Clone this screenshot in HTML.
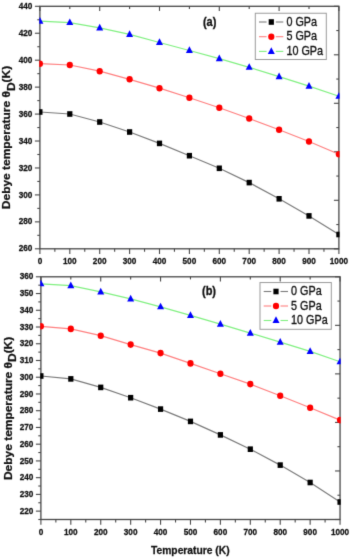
<!DOCTYPE html>
<html><head><meta charset="utf-8"><style>
html,body{margin:0;padding:0;background:#fff;overflow:hidden;width:350px;height:558px;}
svg{display:block;will-change:transform;}
text{font-family:"Liberation Sans", sans-serif;fill:#111;}
.tl{font-size:8.2px;font-weight:bold;stroke:#111;stroke-width:0.25px;}
.pl{font-size:11px;font-weight:bold;stroke:#111;stroke-width:0.3px;}
.yt{font-size:10px;font-weight:bold;stroke:#111;stroke-width:0.25px;}
.xt{font-size:10.3px;font-weight:bold;stroke:#111;stroke-width:0.25px;}
.lg{font-size:10.8px;stroke:#111;stroke-width:0.3px;}
</style></head><body>
<svg width="350" height="558" viewBox="0 0 350 558">
<defs><filter id="bl" x="0" y="0" width="350" height="558" filterUnits="userSpaceOnUse" color-interpolation-filters="sRGB"><feConvolveMatrix order="3" kernelMatrix="0.0114 0.0841 0.0114 0.0841 0.6178 0.0841 0.0114 0.0841 0.0114" edgeMode="duplicate"/></filter></defs>
<g filter="url(#bl)">
<rect width="350" height="558" fill="#fff"/>
<clipPath id="ca"><rect x="39.25" y="5.6499999999999995" width="300.3" height="243.8"/></clipPath>
<rect x="39.9" y="6.3" width="299.0" height="242.5" fill="none" stroke="#474747" stroke-width="1.3"/>
<line x1="34.90" y1="248.80" x2="39.9" y2="248.80" stroke="#474747" stroke-width="1.1"/>
<text transform="translate(32.40 251.40) scale(1 1.14)" text-anchor="end" class="tl">260</text>
<line x1="37.30" y1="235.33" x2="39.9" y2="235.33" stroke="#474747" stroke-width="1.1"/>
<line x1="34.90" y1="221.86" x2="39.9" y2="221.86" stroke="#474747" stroke-width="1.1"/>
<text transform="translate(32.40 224.46) scale(1 1.14)" text-anchor="end" class="tl">280</text>
<line x1="37.30" y1="208.38" x2="39.9" y2="208.38" stroke="#474747" stroke-width="1.1"/>
<line x1="34.90" y1="194.91" x2="39.9" y2="194.91" stroke="#474747" stroke-width="1.1"/>
<text transform="translate(32.40 197.51) scale(1 1.14)" text-anchor="end" class="tl">300</text>
<line x1="37.30" y1="181.44" x2="39.9" y2="181.44" stroke="#474747" stroke-width="1.1"/>
<line x1="34.90" y1="167.97" x2="39.9" y2="167.97" stroke="#474747" stroke-width="1.1"/>
<text transform="translate(32.40 170.57) scale(1 1.14)" text-anchor="end" class="tl">320</text>
<line x1="37.30" y1="154.49" x2="39.9" y2="154.49" stroke="#474747" stroke-width="1.1"/>
<line x1="34.90" y1="141.02" x2="39.9" y2="141.02" stroke="#474747" stroke-width="1.1"/>
<text transform="translate(32.40 143.62) scale(1 1.14)" text-anchor="end" class="tl">340</text>
<line x1="37.30" y1="127.55" x2="39.9" y2="127.55" stroke="#474747" stroke-width="1.1"/>
<line x1="34.90" y1="114.08" x2="39.9" y2="114.08" stroke="#474747" stroke-width="1.1"/>
<text transform="translate(32.40 116.68) scale(1 1.14)" text-anchor="end" class="tl">360</text>
<line x1="37.30" y1="100.61" x2="39.9" y2="100.61" stroke="#474747" stroke-width="1.1"/>
<line x1="34.90" y1="87.13" x2="39.9" y2="87.13" stroke="#474747" stroke-width="1.1"/>
<text transform="translate(32.40 89.73) scale(1 1.14)" text-anchor="end" class="tl">380</text>
<line x1="37.30" y1="73.66" x2="39.9" y2="73.66" stroke="#474747" stroke-width="1.1"/>
<line x1="34.90" y1="60.19" x2="39.9" y2="60.19" stroke="#474747" stroke-width="1.1"/>
<text transform="translate(32.40 62.79) scale(1 1.14)" text-anchor="end" class="tl">400</text>
<line x1="37.30" y1="46.72" x2="39.9" y2="46.72" stroke="#474747" stroke-width="1.1"/>
<line x1="34.90" y1="33.24" x2="39.9" y2="33.24" stroke="#474747" stroke-width="1.1"/>
<text transform="translate(32.40 35.84) scale(1 1.14)" text-anchor="end" class="tl">420</text>
<line x1="37.30" y1="19.77" x2="39.9" y2="19.77" stroke="#474747" stroke-width="1.1"/>
<line x1="34.90" y1="6.30" x2="39.9" y2="6.30" stroke="#474747" stroke-width="1.1"/>
<text transform="translate(32.40 8.90) scale(1 1.14)" text-anchor="end" class="tl">440</text>
<line x1="333.90" y1="6.30" x2="338.9" y2="6.30" stroke="#474747" stroke-width="1.1"/>
<line x1="336.30" y1="30.55" x2="338.9" y2="30.55" stroke="#474747" stroke-width="1.1"/>
<line x1="333.90" y1="54.80" x2="338.9" y2="54.80" stroke="#474747" stroke-width="1.1"/>
<line x1="336.30" y1="79.05" x2="338.9" y2="79.05" stroke="#474747" stroke-width="1.1"/>
<line x1="333.90" y1="103.30" x2="338.9" y2="103.30" stroke="#474747" stroke-width="1.1"/>
<line x1="336.30" y1="127.55" x2="338.9" y2="127.55" stroke="#474747" stroke-width="1.1"/>
<line x1="333.90" y1="151.80" x2="338.9" y2="151.80" stroke="#474747" stroke-width="1.1"/>
<line x1="336.30" y1="176.05" x2="338.9" y2="176.05" stroke="#474747" stroke-width="1.1"/>
<line x1="333.90" y1="200.30" x2="338.9" y2="200.30" stroke="#474747" stroke-width="1.1"/>
<line x1="336.30" y1="224.55" x2="338.9" y2="224.55" stroke="#474747" stroke-width="1.1"/>
<line x1="333.90" y1="248.80" x2="338.9" y2="248.80" stroke="#474747" stroke-width="1.1"/>
<line x1="39.90" y1="248.8" x2="39.90" y2="254.00" stroke="#474747" stroke-width="1.1"/>
<text transform="translate(39.90 264.20) scale(1 1.14)" text-anchor="middle" class="tl">0</text>
<line x1="54.85" y1="248.8" x2="54.85" y2="251.80" stroke="#474747" stroke-width="1.1"/>
<line x1="69.80" y1="248.8" x2="69.80" y2="254.00" stroke="#474747" stroke-width="1.1"/>
<text transform="translate(69.80 264.20) scale(1 1.14)" text-anchor="middle" class="tl">100</text>
<line x1="84.75" y1="248.8" x2="84.75" y2="251.80" stroke="#474747" stroke-width="1.1"/>
<line x1="99.70" y1="248.8" x2="99.70" y2="254.00" stroke="#474747" stroke-width="1.1"/>
<text transform="translate(99.70 264.20) scale(1 1.14)" text-anchor="middle" class="tl">200</text>
<line x1="114.65" y1="248.8" x2="114.65" y2="251.80" stroke="#474747" stroke-width="1.1"/>
<line x1="129.60" y1="248.8" x2="129.60" y2="254.00" stroke="#474747" stroke-width="1.1"/>
<text transform="translate(129.60 264.20) scale(1 1.14)" text-anchor="middle" class="tl">300</text>
<line x1="144.55" y1="248.8" x2="144.55" y2="251.80" stroke="#474747" stroke-width="1.1"/>
<line x1="159.50" y1="248.8" x2="159.50" y2="254.00" stroke="#474747" stroke-width="1.1"/>
<text transform="translate(159.50 264.20) scale(1 1.14)" text-anchor="middle" class="tl">400</text>
<line x1="174.45" y1="248.8" x2="174.45" y2="251.80" stroke="#474747" stroke-width="1.1"/>
<line x1="189.40" y1="248.8" x2="189.40" y2="254.00" stroke="#474747" stroke-width="1.1"/>
<text transform="translate(189.40 264.20) scale(1 1.14)" text-anchor="middle" class="tl">500</text>
<line x1="204.35" y1="248.8" x2="204.35" y2="251.80" stroke="#474747" stroke-width="1.1"/>
<line x1="219.30" y1="248.8" x2="219.30" y2="254.00" stroke="#474747" stroke-width="1.1"/>
<text transform="translate(219.30 264.20) scale(1 1.14)" text-anchor="middle" class="tl">600</text>
<line x1="234.25" y1="248.8" x2="234.25" y2="251.80" stroke="#474747" stroke-width="1.1"/>
<line x1="249.20" y1="248.8" x2="249.20" y2="254.00" stroke="#474747" stroke-width="1.1"/>
<text transform="translate(249.20 264.20) scale(1 1.14)" text-anchor="middle" class="tl">700</text>
<line x1="264.15" y1="248.8" x2="264.15" y2="251.80" stroke="#474747" stroke-width="1.1"/>
<line x1="279.10" y1="248.8" x2="279.10" y2="254.00" stroke="#474747" stroke-width="1.1"/>
<text transform="translate(279.10 264.20) scale(1 1.14)" text-anchor="middle" class="tl">800</text>
<line x1="294.05" y1="248.8" x2="294.05" y2="251.80" stroke="#474747" stroke-width="1.1"/>
<line x1="309.00" y1="248.8" x2="309.00" y2="254.00" stroke="#474747" stroke-width="1.1"/>
<text transform="translate(309.00 264.20) scale(1 1.14)" text-anchor="middle" class="tl">900</text>
<line x1="323.95" y1="248.8" x2="323.95" y2="251.80" stroke="#474747" stroke-width="1.1"/>
<line x1="338.90" y1="248.8" x2="338.90" y2="254.00" stroke="#474747" stroke-width="1.1"/>
<text transform="translate(338.90 264.20) scale(1 1.14)" text-anchor="middle" class="tl">1000</text>
<line x1="39.90" y1="6.3" x2="39.90" y2="10.90" stroke="#474747" stroke-width="1.1"/>
<line x1="69.80" y1="6.3" x2="69.80" y2="8.90" stroke="#474747" stroke-width="1.1"/>
<line x1="99.70" y1="6.3" x2="99.70" y2="10.90" stroke="#474747" stroke-width="1.1"/>
<line x1="129.60" y1="6.3" x2="129.60" y2="8.90" stroke="#474747" stroke-width="1.1"/>
<line x1="159.50" y1="6.3" x2="159.50" y2="10.90" stroke="#474747" stroke-width="1.1"/>
<line x1="189.40" y1="6.3" x2="189.40" y2="8.90" stroke="#474747" stroke-width="1.1"/>
<line x1="219.30" y1="6.3" x2="219.30" y2="10.90" stroke="#474747" stroke-width="1.1"/>
<line x1="249.20" y1="6.3" x2="249.20" y2="8.90" stroke="#474747" stroke-width="1.1"/>
<line x1="279.10" y1="6.3" x2="279.10" y2="10.90" stroke="#474747" stroke-width="1.1"/>
<line x1="309.00" y1="6.3" x2="309.00" y2="8.90" stroke="#474747" stroke-width="1.1"/>
<line x1="338.90" y1="6.3" x2="338.90" y2="10.90" stroke="#474747" stroke-width="1.1"/>
<g clip-path="url(#ca)">
<polyline points="39.90,112.00 69.80,114.00 99.70,122.00 129.60,132.00 159.50,143.40 189.40,155.70 219.30,168.30 249.20,182.60 279.10,198.80 309.00,215.90 338.90,234.50" fill="none" stroke="#7a7a7a" stroke-width="1.2"/>
<polyline points="39.90,63.70 69.80,65.00 99.70,71.20 129.60,79.30 159.50,88.20 189.40,97.80 219.30,107.70 249.20,118.50 279.10,129.80 309.00,141.50 338.90,154.20" fill="none" stroke="#ff7f7f" stroke-width="1.2"/>
<polyline points="39.90,21.10 69.80,22.55 99.70,27.90 129.60,34.40 159.50,42.50 189.40,50.50 219.30,58.70 249.20,67.30 279.10,76.60 309.00,86.10 338.90,96.30" fill="none" stroke="#80f080" stroke-width="1.2"/>
<rect x="37.30" y="109.20" width="5.2" height="5.6" fill="#000"/>
<rect x="67.20" y="111.20" width="5.2" height="5.6" fill="#000"/>
<rect x="97.10" y="119.20" width="5.2" height="5.6" fill="#000"/>
<rect x="127.00" y="129.20" width="5.2" height="5.6" fill="#000"/>
<rect x="156.90" y="140.60" width="5.2" height="5.6" fill="#000"/>
<rect x="186.80" y="152.90" width="5.2" height="5.6" fill="#000"/>
<rect x="216.70" y="165.50" width="5.2" height="5.6" fill="#000"/>
<rect x="246.60" y="179.80" width="5.2" height="5.6" fill="#000"/>
<rect x="276.50" y="196.00" width="5.2" height="5.6" fill="#000"/>
<rect x="306.40" y="213.10" width="5.2" height="5.6" fill="#000"/>
<rect x="336.30" y="231.70" width="5.2" height="5.6" fill="#000"/>
<ellipse cx="39.90" cy="63.70" rx="3.1" ry="3.3" fill="#ff0000"/>
<ellipse cx="69.80" cy="65.00" rx="3.1" ry="3.3" fill="#ff0000"/>
<ellipse cx="99.70" cy="71.20" rx="3.1" ry="3.3" fill="#ff0000"/>
<ellipse cx="129.60" cy="79.30" rx="3.1" ry="3.3" fill="#ff0000"/>
<ellipse cx="159.50" cy="88.20" rx="3.1" ry="3.3" fill="#ff0000"/>
<ellipse cx="189.40" cy="97.80" rx="3.1" ry="3.3" fill="#ff0000"/>
<ellipse cx="219.30" cy="107.70" rx="3.1" ry="3.3" fill="#ff0000"/>
<ellipse cx="249.20" cy="118.50" rx="3.1" ry="3.3" fill="#ff0000"/>
<ellipse cx="279.10" cy="129.80" rx="3.1" ry="3.3" fill="#ff0000"/>
<ellipse cx="309.00" cy="141.50" rx="3.1" ry="3.3" fill="#ff0000"/>
<ellipse cx="338.90" cy="154.20" rx="3.1" ry="3.3" fill="#ff0000"/>
<path d="M39.90 16.95L43.40 23.65L36.40 23.65Z" fill="#0000ff"/>
<path d="M69.80 18.40L73.30 25.10L66.30 25.10Z" fill="#0000ff"/>
<path d="M99.70 23.75L103.20 30.45L96.20 30.45Z" fill="#0000ff"/>
<path d="M129.60 30.25L133.10 36.95L126.10 36.95Z" fill="#0000ff"/>
<path d="M159.50 38.35L163.00 45.05L156.00 45.05Z" fill="#0000ff"/>
<path d="M189.40 46.35L192.90 53.05L185.90 53.05Z" fill="#0000ff"/>
<path d="M219.30 54.55L222.80 61.25L215.80 61.25Z" fill="#0000ff"/>
<path d="M249.20 63.15L252.70 69.85L245.70 69.85Z" fill="#0000ff"/>
<path d="M279.10 72.45L282.60 79.15L275.60 79.15Z" fill="#0000ff"/>
<path d="M309.00 81.95L312.50 88.65L305.50 88.65Z" fill="#0000ff"/>
<path d="M338.90 92.15L342.40 98.85L335.40 98.85Z" fill="#0000ff"/>
</g>
<text transform="translate(209.6 26.00) scale(1 1.1)" text-anchor="middle" class="pl">(a)</text>
<text transform="translate(10.0 137.50) rotate(-90) scale(1.196 1)" text-anchor="middle" class="yt">Debye temperature &#952;<tspan dy="4.5">D</tspan><tspan dy="-4.5">(K)</tspan></text>
<rect x="255.3" y="13.25" width="71.0" height="46.25" fill="#fff" stroke="#9a9a9a" stroke-width="1"/>
<line x1="259.0" y1="22.00" x2="266.6" y2="22.00" stroke="#7a7a7a" stroke-width="1.1"/>
<line x1="275.8" y1="22.00" x2="283.3" y2="22.00" stroke="#7a7a7a" stroke-width="1.1"/>
<rect x="268.70" y="19.20" width="5.2" height="5.6" fill="#000"/>
<text transform="translate(286.40 25.70) scale(1 1.13)" class="lg">0 GPa</text>
<line x1="259.0" y1="36.70" x2="266.6" y2="36.70" stroke="#ff7f7f" stroke-width="1.1"/>
<line x1="275.8" y1="36.70" x2="283.3" y2="36.70" stroke="#ff7f7f" stroke-width="1.1"/>
<ellipse cx="271.30" cy="36.70" rx="3.1" ry="3.3" fill="#ff0000"/>
<text transform="translate(286.40 40.40) scale(1 1.13)" class="lg">5 GPa</text>
<line x1="259.0" y1="51.40" x2="266.6" y2="51.40" stroke="#80f080" stroke-width="1.1"/>
<line x1="275.8" y1="51.40" x2="283.3" y2="51.40" stroke="#80f080" stroke-width="1.1"/>
<path d="M271.30 47.25L274.80 53.95L267.80 53.95Z" fill="#0000ff"/>
<text transform="translate(286.40 55.10) scale(1 1.13)" class="lg">10 GPa</text>
<clipPath id="cb"><rect x="40.25" y="276.15000000000003" width="300.45000000000005" height="244.0"/></clipPath>
<rect x="40.9" y="276.8" width="299.15000000000003" height="242.7" fill="none" stroke="#474747" stroke-width="1.3"/>
<line x1="38.30" y1="519.50" x2="40.9" y2="519.50" stroke="#474747" stroke-width="1.1"/>
<line x1="35.90" y1="511.13" x2="40.9" y2="511.13" stroke="#474747" stroke-width="1.1"/>
<text transform="translate(33.40 513.73) scale(1 1.14)" text-anchor="end" class="tl">220</text>
<line x1="38.30" y1="502.76" x2="40.9" y2="502.76" stroke="#474747" stroke-width="1.1"/>
<line x1="35.90" y1="494.39" x2="40.9" y2="494.39" stroke="#474747" stroke-width="1.1"/>
<text transform="translate(33.40 496.99) scale(1 1.14)" text-anchor="end" class="tl">230</text>
<line x1="38.30" y1="486.02" x2="40.9" y2="486.02" stroke="#474747" stroke-width="1.1"/>
<line x1="35.90" y1="477.66" x2="40.9" y2="477.66" stroke="#474747" stroke-width="1.1"/>
<text transform="translate(33.40 480.26) scale(1 1.14)" text-anchor="end" class="tl">240</text>
<line x1="38.30" y1="469.29" x2="40.9" y2="469.29" stroke="#474747" stroke-width="1.1"/>
<line x1="35.90" y1="460.92" x2="40.9" y2="460.92" stroke="#474747" stroke-width="1.1"/>
<text transform="translate(33.40 463.52) scale(1 1.14)" text-anchor="end" class="tl">250</text>
<line x1="38.30" y1="452.55" x2="40.9" y2="452.55" stroke="#474747" stroke-width="1.1"/>
<line x1="35.90" y1="444.18" x2="40.9" y2="444.18" stroke="#474747" stroke-width="1.1"/>
<text transform="translate(33.40 446.78) scale(1 1.14)" text-anchor="end" class="tl">260</text>
<line x1="38.30" y1="435.81" x2="40.9" y2="435.81" stroke="#474747" stroke-width="1.1"/>
<line x1="35.90" y1="427.44" x2="40.9" y2="427.44" stroke="#474747" stroke-width="1.1"/>
<text transform="translate(33.40 430.04) scale(1 1.14)" text-anchor="end" class="tl">270</text>
<line x1="38.30" y1="419.07" x2="40.9" y2="419.07" stroke="#474747" stroke-width="1.1"/>
<line x1="35.90" y1="410.70" x2="40.9" y2="410.70" stroke="#474747" stroke-width="1.1"/>
<text transform="translate(33.40 413.30) scale(1 1.14)" text-anchor="end" class="tl">280</text>
<line x1="38.30" y1="402.33" x2="40.9" y2="402.33" stroke="#474747" stroke-width="1.1"/>
<line x1="35.90" y1="393.97" x2="40.9" y2="393.97" stroke="#474747" stroke-width="1.1"/>
<text transform="translate(33.40 396.57) scale(1 1.14)" text-anchor="end" class="tl">290</text>
<line x1="38.30" y1="385.60" x2="40.9" y2="385.60" stroke="#474747" stroke-width="1.1"/>
<line x1="35.90" y1="377.23" x2="40.9" y2="377.23" stroke="#474747" stroke-width="1.1"/>
<text transform="translate(33.40 379.83) scale(1 1.14)" text-anchor="end" class="tl">300</text>
<line x1="38.30" y1="368.86" x2="40.9" y2="368.86" stroke="#474747" stroke-width="1.1"/>
<line x1="35.90" y1="360.49" x2="40.9" y2="360.49" stroke="#474747" stroke-width="1.1"/>
<text transform="translate(33.40 363.09) scale(1 1.14)" text-anchor="end" class="tl">310</text>
<line x1="38.30" y1="352.12" x2="40.9" y2="352.12" stroke="#474747" stroke-width="1.1"/>
<line x1="35.90" y1="343.75" x2="40.9" y2="343.75" stroke="#474747" stroke-width="1.1"/>
<text transform="translate(33.40 346.35) scale(1 1.14)" text-anchor="end" class="tl">320</text>
<line x1="38.30" y1="335.38" x2="40.9" y2="335.38" stroke="#474747" stroke-width="1.1"/>
<line x1="35.90" y1="327.01" x2="40.9" y2="327.01" stroke="#474747" stroke-width="1.1"/>
<text transform="translate(33.40 329.61) scale(1 1.14)" text-anchor="end" class="tl">330</text>
<line x1="38.30" y1="318.64" x2="40.9" y2="318.64" stroke="#474747" stroke-width="1.1"/>
<line x1="35.90" y1="310.28" x2="40.9" y2="310.28" stroke="#474747" stroke-width="1.1"/>
<text transform="translate(33.40 312.88) scale(1 1.14)" text-anchor="end" class="tl">340</text>
<line x1="38.30" y1="301.91" x2="40.9" y2="301.91" stroke="#474747" stroke-width="1.1"/>
<line x1="35.90" y1="293.54" x2="40.9" y2="293.54" stroke="#474747" stroke-width="1.1"/>
<text transform="translate(33.40 296.14) scale(1 1.14)" text-anchor="end" class="tl">350</text>
<line x1="38.30" y1="285.17" x2="40.9" y2="285.17" stroke="#474747" stroke-width="1.1"/>
<line x1="35.90" y1="276.80" x2="40.9" y2="276.80" stroke="#474747" stroke-width="1.1"/>
<text transform="translate(33.40 279.40) scale(1 1.14)" text-anchor="end" class="tl">360</text>
<line x1="335.05" y1="276.80" x2="340.05" y2="276.80" stroke="#474747" stroke-width="1.1"/>
<line x1="337.45" y1="301.07" x2="340.05" y2="301.07" stroke="#474747" stroke-width="1.1"/>
<line x1="335.05" y1="325.34" x2="340.05" y2="325.34" stroke="#474747" stroke-width="1.1"/>
<line x1="337.45" y1="349.61" x2="340.05" y2="349.61" stroke="#474747" stroke-width="1.1"/>
<line x1="335.05" y1="373.88" x2="340.05" y2="373.88" stroke="#474747" stroke-width="1.1"/>
<line x1="337.45" y1="398.15" x2="340.05" y2="398.15" stroke="#474747" stroke-width="1.1"/>
<line x1="335.05" y1="422.42" x2="340.05" y2="422.42" stroke="#474747" stroke-width="1.1"/>
<line x1="337.45" y1="446.69" x2="340.05" y2="446.69" stroke="#474747" stroke-width="1.1"/>
<line x1="335.05" y1="470.96" x2="340.05" y2="470.96" stroke="#474747" stroke-width="1.1"/>
<line x1="337.45" y1="495.23" x2="340.05" y2="495.23" stroke="#474747" stroke-width="1.1"/>
<line x1="335.05" y1="519.50" x2="340.05" y2="519.50" stroke="#474747" stroke-width="1.1"/>
<line x1="40.90" y1="519.5" x2="40.90" y2="524.70" stroke="#474747" stroke-width="1.1"/>
<text transform="translate(40.90 534.90) scale(1 1.14)" text-anchor="middle" class="tl">0</text>
<line x1="55.86" y1="519.5" x2="55.86" y2="522.50" stroke="#474747" stroke-width="1.1"/>
<line x1="70.81" y1="519.5" x2="70.81" y2="524.70" stroke="#474747" stroke-width="1.1"/>
<text transform="translate(70.81 534.90) scale(1 1.14)" text-anchor="middle" class="tl">100</text>
<line x1="85.77" y1="519.5" x2="85.77" y2="522.50" stroke="#474747" stroke-width="1.1"/>
<line x1="100.73" y1="519.5" x2="100.73" y2="524.70" stroke="#474747" stroke-width="1.1"/>
<text transform="translate(100.73 534.90) scale(1 1.14)" text-anchor="middle" class="tl">200</text>
<line x1="115.69" y1="519.5" x2="115.69" y2="522.50" stroke="#474747" stroke-width="1.1"/>
<line x1="130.65" y1="519.5" x2="130.65" y2="524.70" stroke="#474747" stroke-width="1.1"/>
<text transform="translate(130.65 534.90) scale(1 1.14)" text-anchor="middle" class="tl">300</text>
<line x1="145.60" y1="519.5" x2="145.60" y2="522.50" stroke="#474747" stroke-width="1.1"/>
<line x1="160.56" y1="519.5" x2="160.56" y2="524.70" stroke="#474747" stroke-width="1.1"/>
<text transform="translate(160.56 534.90) scale(1 1.14)" text-anchor="middle" class="tl">400</text>
<line x1="175.52" y1="519.5" x2="175.52" y2="522.50" stroke="#474747" stroke-width="1.1"/>
<line x1="190.48" y1="519.5" x2="190.48" y2="524.70" stroke="#474747" stroke-width="1.1"/>
<text transform="translate(190.48 534.90) scale(1 1.14)" text-anchor="middle" class="tl">500</text>
<line x1="205.43" y1="519.5" x2="205.43" y2="522.50" stroke="#474747" stroke-width="1.1"/>
<line x1="220.39" y1="519.5" x2="220.39" y2="524.70" stroke="#474747" stroke-width="1.1"/>
<text transform="translate(220.39 534.90) scale(1 1.14)" text-anchor="middle" class="tl">600</text>
<line x1="235.35" y1="519.5" x2="235.35" y2="522.50" stroke="#474747" stroke-width="1.1"/>
<line x1="250.31" y1="519.5" x2="250.31" y2="524.70" stroke="#474747" stroke-width="1.1"/>
<text transform="translate(250.31 534.90) scale(1 1.14)" text-anchor="middle" class="tl">700</text>
<line x1="265.26" y1="519.5" x2="265.26" y2="522.50" stroke="#474747" stroke-width="1.1"/>
<line x1="280.22" y1="519.5" x2="280.22" y2="524.70" stroke="#474747" stroke-width="1.1"/>
<text transform="translate(280.22 534.90) scale(1 1.14)" text-anchor="middle" class="tl">800</text>
<line x1="295.18" y1="519.5" x2="295.18" y2="522.50" stroke="#474747" stroke-width="1.1"/>
<line x1="310.14" y1="519.5" x2="310.14" y2="524.70" stroke="#474747" stroke-width="1.1"/>
<text transform="translate(310.14 534.90) scale(1 1.14)" text-anchor="middle" class="tl">900</text>
<line x1="325.09" y1="519.5" x2="325.09" y2="522.50" stroke="#474747" stroke-width="1.1"/>
<line x1="340.05" y1="519.5" x2="340.05" y2="524.70" stroke="#474747" stroke-width="1.1"/>
<text transform="translate(340.05 534.90) scale(1 1.14)" text-anchor="middle" class="tl">1000</text>
<line x1="40.90" y1="276.8" x2="40.90" y2="281.40" stroke="#474747" stroke-width="1.1"/>
<line x1="70.81" y1="276.8" x2="70.81" y2="279.40" stroke="#474747" stroke-width="1.1"/>
<line x1="100.73" y1="276.8" x2="100.73" y2="281.40" stroke="#474747" stroke-width="1.1"/>
<line x1="130.65" y1="276.8" x2="130.65" y2="279.40" stroke="#474747" stroke-width="1.1"/>
<line x1="160.56" y1="276.8" x2="160.56" y2="281.40" stroke="#474747" stroke-width="1.1"/>
<line x1="190.48" y1="276.8" x2="190.48" y2="279.40" stroke="#474747" stroke-width="1.1"/>
<line x1="220.39" y1="276.8" x2="220.39" y2="281.40" stroke="#474747" stroke-width="1.1"/>
<line x1="250.31" y1="276.8" x2="250.31" y2="279.40" stroke="#474747" stroke-width="1.1"/>
<line x1="280.22" y1="276.8" x2="280.22" y2="281.40" stroke="#474747" stroke-width="1.1"/>
<line x1="310.14" y1="276.8" x2="310.14" y2="279.40" stroke="#474747" stroke-width="1.1"/>
<line x1="340.05" y1="276.8" x2="340.05" y2="281.40" stroke="#474747" stroke-width="1.1"/>
<g clip-path="url(#cb)">
<polyline points="40.90,376.00 70.81,378.90 100.73,387.40 130.65,397.70 160.56,409.10 190.48,421.40 220.39,434.90 250.31,449.20 280.22,465.10 310.14,482.50 340.05,502.00" fill="none" stroke="#7a7a7a" stroke-width="1.2"/>
<polyline points="40.90,326.30 70.81,328.90 100.73,335.70 130.65,344.60 160.56,353.10 190.48,363.40 220.39,373.70 250.31,384.10 280.22,395.80 310.14,407.80 340.05,420.10" fill="none" stroke="#ff7f7f" stroke-width="1.2"/>
<polyline points="40.90,283.80 70.81,285.60 100.73,291.90 130.65,298.90 160.56,306.80 190.48,315.40 220.39,324.20 250.31,333.10 280.22,342.10 310.14,351.40 340.05,361.80" fill="none" stroke="#80f080" stroke-width="1.2"/>
<rect x="38.30" y="373.20" width="5.2" height="5.6" fill="#000"/>
<rect x="68.22" y="376.10" width="5.2" height="5.6" fill="#000"/>
<rect x="98.13" y="384.60" width="5.2" height="5.6" fill="#000"/>
<rect x="128.05" y="394.90" width="5.2" height="5.6" fill="#000"/>
<rect x="157.96" y="406.30" width="5.2" height="5.6" fill="#000"/>
<rect x="187.88" y="418.60" width="5.2" height="5.6" fill="#000"/>
<rect x="217.79" y="432.10" width="5.2" height="5.6" fill="#000"/>
<rect x="247.71" y="446.40" width="5.2" height="5.6" fill="#000"/>
<rect x="277.62" y="462.30" width="5.2" height="5.6" fill="#000"/>
<rect x="307.54" y="479.70" width="5.2" height="5.6" fill="#000"/>
<rect x="337.45" y="499.20" width="5.2" height="5.6" fill="#000"/>
<ellipse cx="40.90" cy="326.30" rx="3.1" ry="3.3" fill="#ff0000"/>
<ellipse cx="70.81" cy="328.90" rx="3.1" ry="3.3" fill="#ff0000"/>
<ellipse cx="100.73" cy="335.70" rx="3.1" ry="3.3" fill="#ff0000"/>
<ellipse cx="130.65" cy="344.60" rx="3.1" ry="3.3" fill="#ff0000"/>
<ellipse cx="160.56" cy="353.10" rx="3.1" ry="3.3" fill="#ff0000"/>
<ellipse cx="190.48" cy="363.40" rx="3.1" ry="3.3" fill="#ff0000"/>
<ellipse cx="220.39" cy="373.70" rx="3.1" ry="3.3" fill="#ff0000"/>
<ellipse cx="250.31" cy="384.10" rx="3.1" ry="3.3" fill="#ff0000"/>
<ellipse cx="280.22" cy="395.80" rx="3.1" ry="3.3" fill="#ff0000"/>
<ellipse cx="310.14" cy="407.80" rx="3.1" ry="3.3" fill="#ff0000"/>
<ellipse cx="340.05" cy="420.10" rx="3.1" ry="3.3" fill="#ff0000"/>
<path d="M40.90 279.65L44.40 286.35L37.40 286.35Z" fill="#0000ff"/>
<path d="M70.81 281.45L74.31 288.15L67.31 288.15Z" fill="#0000ff"/>
<path d="M100.73 287.75L104.23 294.45L97.23 294.45Z" fill="#0000ff"/>
<path d="M130.65 294.75L134.15 301.45L127.15 301.45Z" fill="#0000ff"/>
<path d="M160.56 302.65L164.06 309.35L157.06 309.35Z" fill="#0000ff"/>
<path d="M190.48 311.25L193.98 317.95L186.98 317.95Z" fill="#0000ff"/>
<path d="M220.39 320.05L223.89 326.75L216.89 326.75Z" fill="#0000ff"/>
<path d="M250.31 328.95L253.81 335.65L246.81 335.65Z" fill="#0000ff"/>
<path d="M280.22 337.95L283.72 344.65L276.72 344.65Z" fill="#0000ff"/>
<path d="M310.14 347.25L313.64 353.95L306.64 353.95Z" fill="#0000ff"/>
<path d="M340.05 357.65L343.55 364.35L336.55 364.35Z" fill="#0000ff"/>
</g>
<text transform="translate(209.0 295.20) scale(1 1.1)" text-anchor="middle" class="pl">(b)</text>
<text transform="translate(11.8 408.40) rotate(-90) scale(1.196 1)" text-anchor="middle" class="yt">Debye temperature &#952;<tspan dy="4.5">D</tspan><tspan dy="-4.5">(K)</tspan></text>
<rect x="260.0" y="282.55" width="71.3" height="46.75" fill="#fff" stroke="#9a9a9a" stroke-width="1"/>
<line x1="263.7" y1="291.50" x2="271.3" y2="291.50" stroke="#7a7a7a" stroke-width="1.1"/>
<line x1="280.5" y1="291.50" x2="288.0" y2="291.50" stroke="#7a7a7a" stroke-width="1.1"/>
<rect x="273.40" y="288.70" width="5.2" height="5.6" fill="#000"/>
<text transform="translate(291.10 295.20) scale(1 1.13)" class="lg">0 GPa</text>
<line x1="263.7" y1="306.00" x2="271.3" y2="306.00" stroke="#ff7f7f" stroke-width="1.1"/>
<line x1="280.5" y1="306.00" x2="288.0" y2="306.00" stroke="#ff7f7f" stroke-width="1.1"/>
<ellipse cx="276.00" cy="306.00" rx="3.1" ry="3.3" fill="#ff0000"/>
<text transform="translate(291.10 309.70) scale(1 1.13)" class="lg">5 GPa</text>
<line x1="263.7" y1="320.50" x2="271.3" y2="320.50" stroke="#80f080" stroke-width="1.1"/>
<line x1="280.5" y1="320.50" x2="288.0" y2="320.50" stroke="#80f080" stroke-width="1.1"/>
<path d="M276.00 316.35L279.50 323.05L272.50 323.05Z" fill="#0000ff"/>
<text transform="translate(291.10 324.20) scale(1 1.13)" class="lg">10 GPa</text>
<text transform="translate(190.3 554) scale(1 1.12)" text-anchor="middle" class="xt">Temperature (K)</text>
</g>
</svg>
</body></html>
